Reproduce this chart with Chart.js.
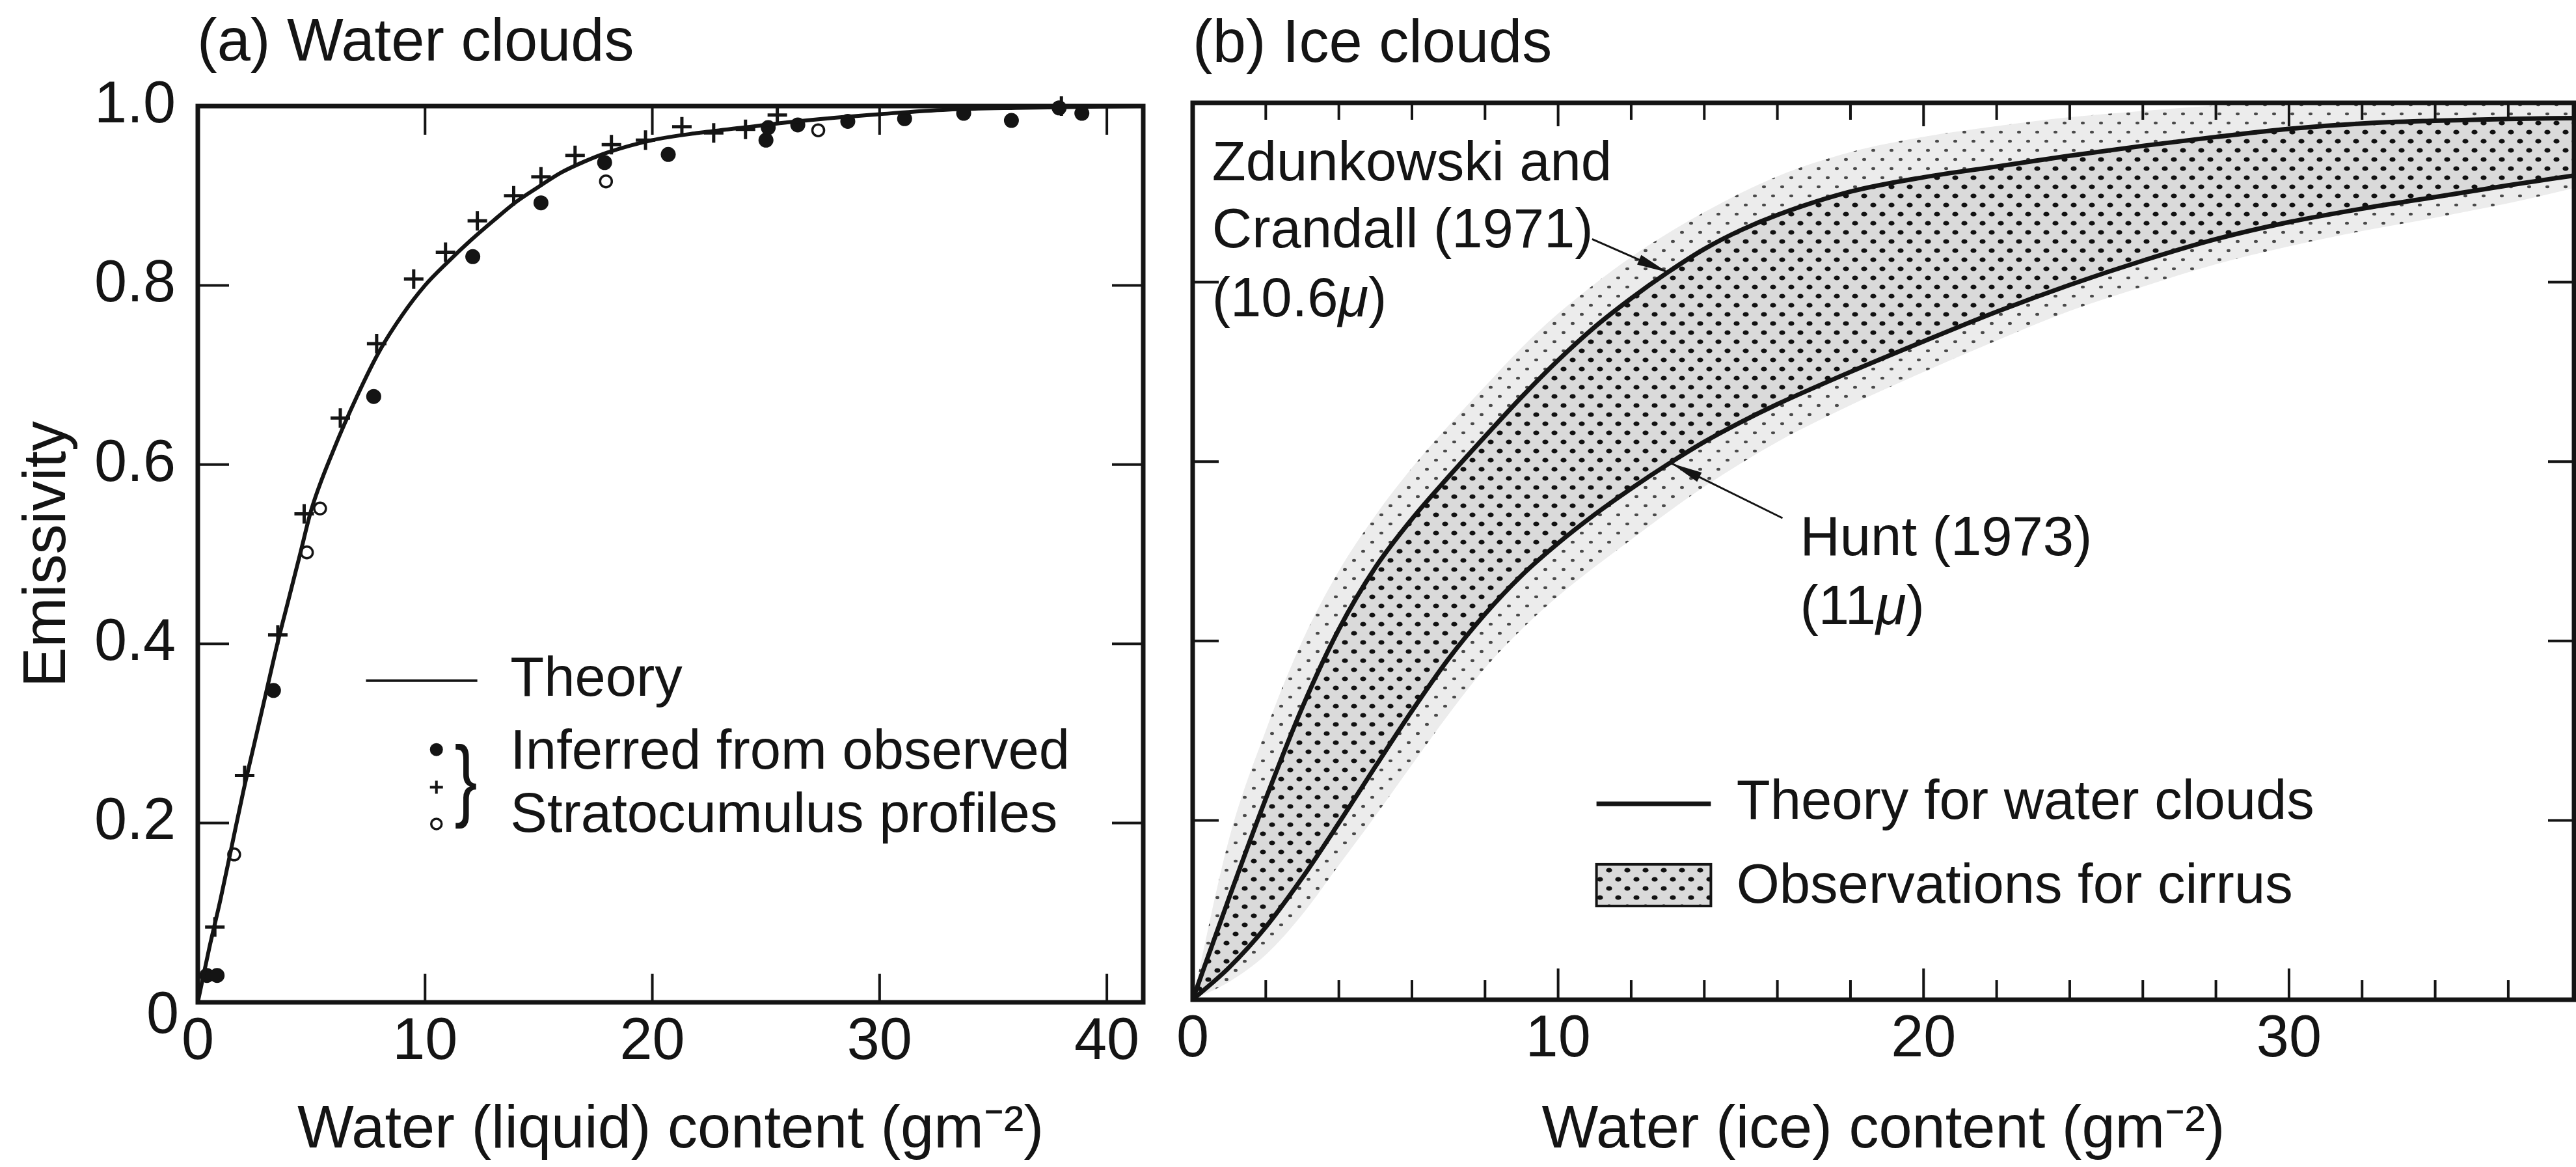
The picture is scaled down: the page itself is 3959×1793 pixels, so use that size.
<!DOCTYPE html>
<html>
<head>
<meta charset="utf-8">
<title>Emissivity of water and ice clouds</title>
<script src="https://cdn.jsdelivr.net/npm/chart.js@4/dist/chart.umd.min.js"></script>
<style>
  html, body { margin: 0; padding: 0; background: #fff; }
  body { width: 3959px; height: 1793px; position: relative; overflow: hidden; }
  canvas { position: absolute; top: 0; }
  #panelA { left: 0; }
  #panelB { left: 1780px; }
</style>
</head>
<body>
<canvas id="panelA" width="1800" height="1793"></canvas>
<canvas id="panelB" width="2179" height="1793"></canvas>
<script>
// ---------- (a) Water clouds ----------
const liquidTheoryW = [0, 0.5, 1, 1.5, 2, 2.5, 3, 3.5, 4, 4.5, 5, 6, 7, 8, 9, 10, 11, 12, 13, 14, 15, 16, 17, 18, 20, 22, 24, 26, 28, 30, 33, 36, 41.6];
const liquidTheoryE = [0, 0.06, 0.115, 0.175, 0.235, 0.29, 0.345, 0.40, 0.45, 0.50, 0.55, 0.618, 0.676, 0.727, 0.767, 0.80, 0.826, 0.85, 0.872, 0.893, 0.91, 0.926, 0.938, 0.948, 0.962, 0.97, 0.976, 0.982, 0.987, 0.991, 0.996, 0.998, 1.0];

const filledW = [0.4, 0.85, 3.33, 7.74, 12.1, 15.1, 17.9, 20.7, 25.0, 25.1, 26.4, 28.6, 31.1, 33.7, 35.8, 37.9, 38.9];
const filledE = [0.03, 0.03, 0.348, 0.676, 0.832, 0.892, 0.937, 0.946, 0.962, 0.976, 0.979, 0.983, 0.986, 0.992, 0.984, 0.998, 0.992];

const plusW = [0.75, 2.06, 3.52, 4.68, 6.27, 7.87, 9.5, 10.9, 12.3, 13.9, 15.1, 16.6, 18.2, 19.7, 21.3, 22.7, 24.1, 25.5, 38.0];
const plusE = [0.084, 0.253, 0.41, 0.545, 0.652, 0.735, 0.807, 0.837, 0.872, 0.90, 0.921, 0.945, 0.957, 0.962, 0.977, 0.97, 0.974, 0.99, 1.0];

const openW = [1.6, 4.8, 5.38, 17.96, 27.3];
const openE = [0.165, 0.502, 0.551, 0.916, 0.973];

const liquidXTicks = [0, 10, 20, 30, 40];
const liquidXMax = 41.6;
const emissivityTicks = [0, 0.2, 0.4, 0.6, 0.8, 1.0];
const emissivityTickLabels = ['0', '0.2', '0.4', '0.6', '0.8', '1.0'];

// ---------- (b) Ice clouds ----------
const zdunkowskiW = [0, 1, 2, 3, 4, 5, 6, 7, 8, 9, 10, 11, 12, 13, 14, 15, 16, 18, 20, 22, 24, 26, 28, 30, 32, 34, 36, 37.8];
const zdunkowskiE = [0, 0.114, 0.224, 0.326, 0.413, 0.482, 0.536, 0.583, 0.628, 0.672, 0.713, 0.750, 0.782, 0.811, 0.837, 0.858, 0.875, 0.901, 0.917, 0.929, 0.941, 0.952, 0.962, 0.971, 0.977, 0.980, 0.982, 0.983];

const huntW = [0, 1, 2, 3, 4, 5, 6, 7, 8, 9, 10, 11, 12, 13, 14, 15, 16, 18, 20, 22, 24, 26, 28, 30, 32, 34, 36, 37.8];
const huntE = [0, 0.036, 0.081, 0.136, 0.197, 0.260, 0.322, 0.380, 0.430, 0.473, 0.509, 0.541, 0.570, 0.597, 0.622, 0.644, 0.664, 0.700, 0.734, 0.767, 0.797, 0.824, 0.848, 0.867, 0.882, 0.895, 0.908, 0.919];

// envelope of the cirrus observations
const cirrusUpperW = [0, 1, 2, 3, 4, 5, 6, 7, 8, 9, 10, 12, 14, 16, 18, 20, 22, 24, 26, 28, 30, 37.8];
const cirrusUpperE = [0, 0.18, 0.30, 0.40, 0.478, 0.54, 0.593, 0.64, 0.684, 0.727, 0.765, 0.828, 0.878, 0.918, 0.945, 0.962, 0.974, 0.984, 0.991, 0.997, 1.0, 1.0];
const cirrusLowerW = [0, 1, 2, 3, 4, 5, 6, 7, 8, 9, 10, 12, 14, 16, 18, 20, 22, 24, 26, 28, 30, 32, 34, 36, 37.8];
const cirrusLowerE = [0, 0.02, 0.05, 0.095, 0.15, 0.205, 0.262, 0.318, 0.37, 0.413, 0.45, 0.513, 0.572, 0.622, 0.663, 0.70, 0.735, 0.768, 0.795, 0.82, 0.84, 0.857, 0.872, 0.888, 0.905];

const iceXTicks = [0, 10, 20, 30];
const iceXMinor = [2, 4, 6, 8, 12, 14, 16, 18, 22, 24, 26, 28, 32, 34, 36];
const iceXMax = 37.8;

const panelTitles = ['(a) Water clouds', '(b) Ice clouds'];
const axisTitles = ['Water (liquid) content (gm\u207B\u00B2)', 'Water (ice) content (gm\u207B\u00B2)', 'Emissivity'];

// ---------- styling ----------
const FONT = "'Liberation Sans', Arial, Helvetica, sans-serif";
const INK = '#141414';
Chart.defaults.font.family = FONT;
Chart.defaults.color = INK;

const pts = (xs, ys) => xs.map((v, i) => ({x: v, y: ys[i]}));

function dotPattern(bg, ink, rx, ry) {
  const c = document.createElement('canvas');
  c.width = 28; c.height = 28;
  const g = c.getContext('2d');
  g.fillStyle = bg; g.fillRect(0, 0, 28, 28);
  g.fillStyle = ink;
  for (const [cx, cy] of [[7, 7], [21, 21]]) {
    g.beginPath(); g.ellipse(cx, cy, rx, ry, 0, 0, Math.PI * 2); g.fill();
  }
  return g.createPattern(c, 'repeat');
}
const denseStipple = dotPattern('#dadada', '#111111', 4.6, 3.6);
const lightStipple = dotPattern('#ececec', '#4a4a4a', 3, 2.2);

// inward ticks and a heavy frame round the plot area
function frameAndTicks(spec) {
  return {
    id: 'frame-' + spec.name,
    afterDatasetsDraw(chart) {
      const {ctx, chartArea: a} = chart;
      const xs = chart.scales.x, ys = chart.scales.y;
      ctx.save();
      ctx.strokeStyle = INK;
      ctx.lineCap = 'butt';
      ctx.lineWidth = spec.tickWidth;
      ctx.beginPath();
      for (const t of spec.xTicks) {
        const px = xs.getPixelForValue(t.value);
        ctx.moveTo(px, a.bottom); ctx.lineTo(px, a.bottom - t.bottom);
        ctx.moveTo(px, a.top); ctx.lineTo(px, a.top + t.top);
      }
      for (const v of spec.yTicks) {
        const py = ys.getPixelForValue(v);
        ctx.moveTo(a.left, py); ctx.lineTo(a.left + spec.yLen, py);
        ctx.moveTo(a.right, py); ctx.lineTo(a.right - spec.yLen, py);
      }
      ctx.stroke();
      ctx.lineWidth = spec.frameWidth;
      ctx.lineJoin = 'miter';
      ctx.strokeRect(a.left, a.top, a.width, a.height);
      ctx.restore();
    }
  };
}

function richText(ctx, parts, x, y, size) {
  let cx = x;
  for (const p of parts) {
    ctx.font = (p.italic ? 'italic ' : '') + size + 'px ' + FONT;
    ctx.fillText(p.text, cx, y);
    cx += ctx.measureText(p.text).width;
  }
}

function leader(ctx, x0, y0, x1, y1) {
  ctx.lineWidth = 3;
  ctx.beginPath(); ctx.moveTo(x0, y0); ctx.lineTo(x1, y1); ctx.stroke();
  const ang = Math.atan2(y1 - y0, x1 - x0);
  const L = 48, hw = 8;
  const bx = x1 - L * Math.cos(ang), by = y1 - L * Math.sin(ang);
  ctx.beginPath();
  ctx.moveTo(x1, y1);
  ctx.lineTo(bx + hw * Math.sin(ang), by - hw * Math.cos(ang));
  ctx.lineTo(bx - hw * Math.sin(ang), by + hw * Math.cos(ang));
  ctx.closePath(); ctx.fill();
}

// ---------- text and keys of panel (a), placed in data units ----------
const keyA = {lineFrom: 7.4, lineTo: 12.3, textAt: 13.75, symAt: 10.5, braceAt: 11.8,
              theoryRow: 0.359, dotRow: 0.282, plusRow: 0.240, openRow: 0.199,
              inferredRow: 0.278, stratoRow: 0.207, braceRow: 0.243};

const notesA = {
  id: 'notesA',
  afterDraw(chart) {
    const {ctx, chartArea: a} = chart;
    const x = chart.scales.x, y = chart.scales.y;
    ctx.save();
    ctx.fillStyle = INK; ctx.strokeStyle = INK;
    ctx.font = '92px ' + FONT; ctx.textAlign = 'left'; ctx.textBaseline = 'alphabetic';
    ctx.fillText(panelTitles[0], a.left - 1, a.top - 70);

    ctx.font = '90px ' + FONT; ctx.textAlign = 'right'; ctx.textBaseline = 'middle';
    ctx.fillText(emissivityTickLabels[0], a.left - 29, y.getPixelForValue(0) + 22);

    // key
    ctx.lineWidth = 4;
    ctx.beginPath();
    ctx.moveTo(x.getPixelForValue(keyA.lineFrom), y.getPixelForValue(keyA.theoryRow));
    ctx.lineTo(x.getPixelForValue(keyA.lineTo), y.getPixelForValue(keyA.theoryRow));
    ctx.stroke();
    ctx.font = '85px ' + FONT; ctx.textAlign = 'left'; ctx.textBaseline = 'middle';
    const tx = x.getPixelForValue(keyA.textAt);
    ctx.fillText('Theory', tx, y.getPixelForValue(keyA.theoryRow));
    ctx.fillText('Inferred from observed', tx, y.getPixelForValue(keyA.inferredRow));
    ctx.fillText('Stratocumulus profiles', tx, y.getPixelForValue(keyA.stratoRow));

    const sx = x.getPixelForValue(keyA.symAt);
    ctx.beginPath(); ctx.arc(sx, y.getPixelForValue(keyA.dotRow), 10, 0, Math.PI * 2); ctx.fill();
    const py = y.getPixelForValue(keyA.plusRow);
    ctx.lineWidth = 4;
    ctx.beginPath(); ctx.moveTo(sx - 10, py); ctx.lineTo(sx + 10, py); ctx.moveTo(sx, py - 10); ctx.lineTo(sx, py + 10); ctx.stroke();
    ctx.lineWidth = 3.5;
    ctx.beginPath(); ctx.arc(sx, y.getPixelForValue(keyA.openRow), 8, 0, Math.PI * 2); ctx.stroke();

    ctx.save();
    ctx.translate(x.getPixelForValue(keyA.braceAt), y.getPixelForValue(keyA.braceRow));
    ctx.scale(0.75, 1);
    ctx.font = '140px ' + FONT; ctx.textAlign = 'center'; ctx.textBaseline = 'middle';
    ctx.fillText('}', 0, 0);
    ctx.restore();
    ctx.restore();
  }
};

// ---------- text and keys of panel (b), placed in data units ----------
const notesBPos = {
  textLeft: 0.53, zdRows: [0.9135, 0.8387, 0.762],
  zdLeadFrom: [10.93, 0.848], zdLeadTo: [13.0, 0.811],
  huntLeft: 16.62, huntRows: [0.4956, 0.419],
  huntLeadFrom: [16.14, 0.537], huntLeadTo: [13.1, 0.598],
  keyFrom: 11.05, keyTo: 14.18, keyText: 14.88, keyLineRow: 0.2184,
  swatchTop: 0.151, swatchBottom: 0.1045, keyFillRow: 0.125
};

const notesB = {
  id: 'notesB',
  afterDraw(chart) {
    const {ctx, chartArea: a} = chart;
    const x = chart.scales.x, y = chart.scales.y;
    const P = notesBPos;
    const X = v => x.getPixelForValue(v), Y = v => y.getPixelForValue(v);
    ctx.save();
    ctx.fillStyle = INK; ctx.strokeStyle = INK;
    ctx.font = '92px ' + FONT; ctx.textAlign = 'left'; ctx.textBaseline = 'alphabetic';
    ctx.fillText(panelTitles[1], a.left, a.top - 63);

    ctx.font = '85px ' + FONT;
    ctx.fillText('Zdunkowski and', X(P.textLeft), Y(P.zdRows[0]));
    ctx.fillText('Crandall (1971)', X(P.textLeft), Y(P.zdRows[1]));
    richText(ctx, [{text: '(10.6'}, {text: '\u03BC', italic: true}, {text: ')'}], X(P.textLeft), Y(P.zdRows[2]), 85);
    ctx.font = '85px ' + FONT;
    ctx.fillText('Hunt (1973)', X(P.huntLeft), Y(P.huntRows[0]));
    richText(ctx, [{text: '(11'}, {text: '\u03BC', italic: true}, {text: ')'}], X(P.huntLeft), Y(P.huntRows[1]), 85);

    leader(ctx, X(P.zdLeadFrom[0]), Y(P.zdLeadFrom[1]), X(P.zdLeadTo[0]), Y(P.zdLeadTo[1]));
    leader(ctx, X(P.huntLeadFrom[0]), Y(P.huntLeadFrom[1]), X(P.huntLeadTo[0]), Y(P.huntLeadTo[1]));

    // key
    ctx.lineWidth = 7;
    ctx.beginPath(); ctx.moveTo(X(P.keyFrom), Y(P.keyLineRow)); ctx.lineTo(X(P.keyTo), Y(P.keyLineRow)); ctx.stroke();
    const sx = X(P.keyFrom), sy = Y(P.swatchTop), sw = X(P.keyTo) - sx, sh = Y(P.swatchBottom) - sy;
    ctx.fillStyle = denseStipple; ctx.fillRect(sx, sy, sw, sh);
    ctx.lineWidth = 4; ctx.strokeRect(sx, sy, sw, sh);
    ctx.fillStyle = INK;
    ctx.font = '85px ' + FONT; ctx.textBaseline = 'middle';
    ctx.fillText('Theory for water clouds', X(P.keyText), Y(P.keyLineRow));
    ctx.fillText('Observations for cirrus', X(P.keyText), Y(P.keyFillRow));
    ctx.restore();
  }
};

const tickFont = {family: FONT, size: 90, lineHeight: 1};
const titleFont = {family: FONT, size: 92, lineHeight: 1.2};

// ---------- chart (a) ----------
new Chart(document.getElementById('panelA'), {
  type: 'scatter',
  data: {
    datasets: [
      {label: 'Theory', data: pts(liquidTheoryW, liquidTheoryE), showLine: true,
       borderColor: INK, borderWidth: 6, pointRadius: 0, cubicInterpolationMode: 'monotone', fill: false},
      {label: 'Inferred (filled)', data: pts(filledW, filledE), pointStyle: 'circle', pointRadius: 11.5,
       pointBackgroundColor: INK, pointBorderColor: INK, pointBorderWidth: 0, clip: false},
      {label: 'Inferred (plus)', data: pts(plusW, plusE), pointStyle: 'cross', pointRadius: 15,
       pointBorderColor: INK, pointBorderWidth: 5, clip: false},
      {label: 'Inferred (open)', data: pts(openW, openE), pointStyle: 'circle', pointRadius: 9,
       pointBackgroundColor: '#ffffff', pointBorderColor: INK, pointBorderWidth: 3.5, clip: false}
    ]
  },
  options: {
    responsive: false, animation: false, events: [], devicePixelRatio: 1,
    layout: {padding: {top: 163, left: 0, right: 43, bottom: 0}},
    plugins: {legend: {display: false}, tooltip: {enabled: false}},
    scales: {
      x: {
        type: 'linear', position: 'bottom', min: 0, max: liquidXMax,
        grid: {display: false, drawTicks: false}, border: {display: false},
        afterBuildTicks: s => { s.ticks = liquidXTicks.map(v => ({value: v})); },
        afterFit: s => { s.height = 253; },
        ticks: {autoSkip: false, maxRotation: 0, padding: 17, color: INK, font: tickFont,
                callback: v => String(v)},
        title: {display: true, text: axisTitles[0], color: INK, font: titleFont, padding: 0}
      },
      y: {
        type: 'linear', position: 'left', min: 0, max: 1,
        grid: {display: false, drawTicks: false}, border: {display: false},
        afterBuildTicks: s => { s.ticks = emissivityTicks.map(v => ({value: v})); },
        afterFit: s => { s.width = 304; },
        ticks: {autoSkip: false, padding: 34, color: INK, font: tickFont,
                callback: (v, i) => (i === 0 ? '' : emissivityTickLabels[i])},
        title: {display: true, text: axisTitles[2], color: INK, font: titleFont, padding: {top: 19, bottom: 0}}
      }
    }
  },
  plugins: [
    frameAndTicks({name: 'a', tickWidth: 4, frameWidth: 7, yLen: 48,
                   xTicks: liquidXTicks.slice(1).map(v => ({value: v, bottom: 44, top: 44})),
                   yTicks: emissivityTicks.slice(1, -1)}),
    notesA
  ]
});

// ---------- chart (b) ----------
new Chart(document.getElementById('panelB'), {
  type: 'scatter',
  data: {
    datasets: [
      {label: 'Zdunkowski and Crandall (1971)', data: pts(zdunkowskiW, zdunkowskiE), showLine: true,
       borderColor: INK, borderWidth: 7, pointRadius: 0, cubicInterpolationMode: 'monotone',
       fill: 1, backgroundColor: denseStipple},
      {label: 'Hunt (1973)', data: pts(huntW, huntE), showLine: true,
       borderColor: INK, borderWidth: 7, pointRadius: 0, cubicInterpolationMode: 'monotone', fill: false},
      {label: 'Observations for cirrus (upper)', data: pts(cirrusUpperW, cirrusUpperE), showLine: true,
       borderColor: 'rgba(0,0,0,0)', borderWidth: 1, pointRadius: 0, cubicInterpolationMode: 'monotone',
       fill: 3, backgroundColor: lightStipple},
      {label: 'Observations for cirrus (lower)', data: pts(cirrusLowerW, cirrusLowerE), showLine: true,
       borderColor: 'rgba(0,0,0,0)', borderWidth: 1, pointRadius: 0, cubicInterpolationMode: 'monotone', fill: false}
    ]
  },
  options: {
    responsive: false, animation: false, events: [], devicePixelRatio: 1,
    layout: {padding: {top: 158, left: 53, right: 3, bottom: 0}},
    plugins: {legend: {display: false}, tooltip: {enabled: false}, filler: {drawTime: 'beforeDatasetsDraw'}},
    scales: {
      x: {
        type: 'linear', position: 'bottom', min: 0, max: iceXMax,
        grid: {display: false, drawTicks: false}, border: {display: false},
        afterBuildTicks: s => { s.ticks = iceXTicks.map(v => ({value: v})); },
        afterFit: s => { s.height = 257; },
        ticks: {autoSkip: false, maxRotation: 0, padding: 17, color: INK, font: tickFont,
                callback: v => String(v)},
        title: {display: true, text: axisTitles[1], color: INK, font: titleFont, padding: 0}
      },
      y: {type: 'linear', min: 0, max: 1, display: false}
    }
  },
  plugins: [
    frameAndTicks({name: 'b', tickWidth: 4, frameWidth: 7, yLen: 40,
                   xTicks: iceXTicks.slice(1).map(v => ({value: v, bottom: 48, top: 36}))
                     .concat(iceXMinor.map(v => ({value: v, bottom: 30, top: 26}))),
                   yTicks: emissivityTicks.slice(1, -1)}),
    notesB
  ]
});
</script>
</body>
</html>
